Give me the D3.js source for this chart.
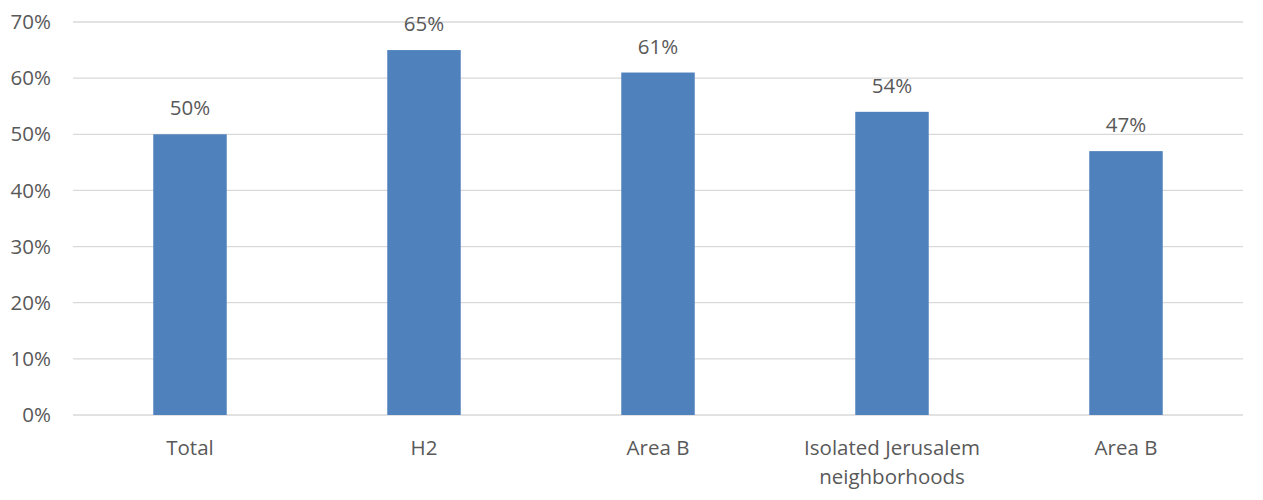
<!DOCTYPE html>
<html><head><meta charset="utf-8">
<script src="https://cdn.jsdelivr.net/npm/d3@7"></script>
<style>body{margin:0;background:#fff}svg{display:block}text{font-family:"Open Sans",sans-serif;fill:#595959}</style>
</head><body><svg id="c" width="1263" height="500"></svg>
<script>
const categories = ["Total", "H2", "Area B", "Isolated Jerusalem neighborhoods", "Area B"];
const values = [50, 65, 61, 54, 47];
const tickValues = [0, 10, 20, 30, 40, 50, 60, 70];

const svg = d3.select("#c");
const m = {l: 73, r: 20, t: 22, b: 85};
const W = 1263, H = 500;
const FS = "20.5px";
const x = d3.scaleBand().domain(d3.range(categories.length)).range([m.l, W - m.r]).paddingInner(0.686).paddingOuter(0.343);
const y = d3.scaleLinear().domain([0, 70]).range([H - m.b, m.t]);

svg.append("g").selectAll("line").data(tickValues).join("line")
  .attr("x1", m.l).attr("x2", W - m.r)
  .attr("y1", d => y(d)).attr("y2", d => y(d))
  .attr("stroke", "#d9d9d9").attr("stroke-width", 1.3);

svg.append("g").selectAll("text").data(tickValues).join("text")
  .attr("x", 51).attr("y", d => y(d)).attr("dy", "0.35em")
  .attr("text-anchor", "end").style("font-size", FS)
  .text(d => d + "%");

svg.append("g").selectAll("rect").data(values).join("rect")
  .attr("x", (d, i) => x(i)).attr("width", x.bandwidth())
  .attr("y", d => y(d)).attr("height", d => y(0) - y(d))
  .attr("fill", "#4f81bd");

svg.append("g").selectAll("text").data(values).join("text")
  .attr("x", (d, i) => x(i) + x.bandwidth() / 2).attr("y", d => y(d) - 26).attr("dy", "0.35em")
  .attr("text-anchor", "middle").style("font-size", FS)
  .text(d => d + "%");

const lab = svg.append("g").selectAll("text").data(categories).join("text")
  .attr("text-anchor", "middle").style("font-size", FS)
  .attr("transform", (d, i) => `translate(${x(i) + x.bandwidth() / 2},0)`);
lab.each(function(d) {
  const t = d3.select(this);
  const lines = d === "Isolated Jerusalem neighborhoods" ? ["Isolated Jerusalem", "neighborhoods"] : [d];
  lines.forEach((ln, k) => t.append("tspan").attr("x", 0).attr("y", 448 + k * 29).attr("dy", "0.35em").text(ln));
});
</script></body></html>
